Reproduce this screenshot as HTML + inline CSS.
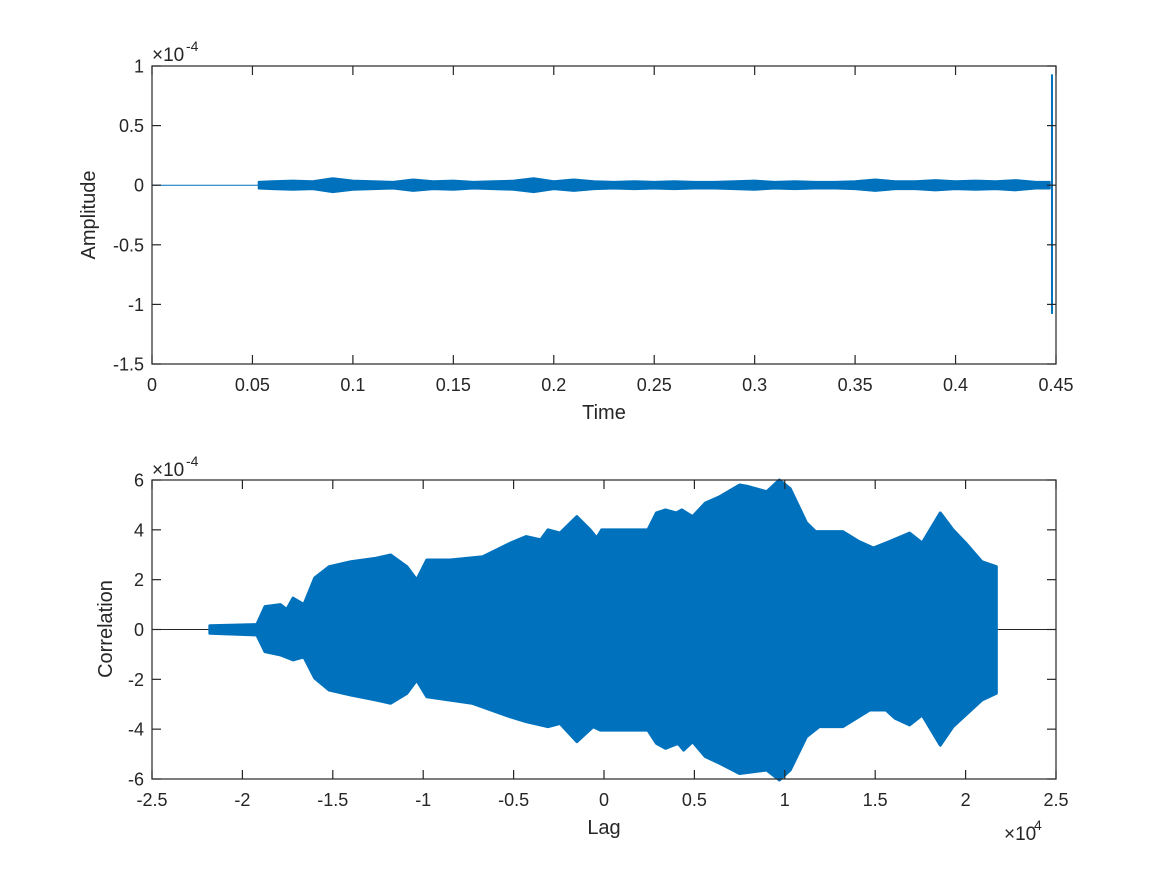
<!DOCTYPE html>
<html><head><meta charset="utf-8"><style>
body{margin:0;background:#fff;}
svg text{font-family:"Liberation Sans",Helvetica,Arial,sans-serif;fill:#262626;}
</style></head><body>
<svg id="fig" width="1167" height="875" viewBox="0 0 1167 875" xmlns="http://www.w3.org/2000/svg">
<rect width="1167" height="875" fill="#fff"/>
<g id="top"></g>
<g id="bot"></g>
</svg>
<script>
// ---- top plot data (time, amplitude x1e-4)
const topXTicks=[0,0.05,0.1,0.15,0.2,0.25,0.3,0.35,0.4,0.45];
const topXTickLabels=["0","0.05","0.1","0.15","0.2","0.25","0.3","0.35","0.4","0.45"];
const topYTicks=[-1.5,-1,-0.5,0,0.5,1];
const topYTickLabels=["-1.5","-1","-0.5","0","0.5","1"];
const noiseTimes=[0.053,0.06,0.07,0.08,0.09,0.1,0.11,0.12,0.13,0.14,0.15,0.16,0.17,0.18,0.19,0.2,0.21,0.22,0.23,0.24,0.25,0.26,0.27,0.28,0.29,0.3,0.31,0.32,0.33,0.34,0.35,0.36,0.37,0.38,0.39,0.4,0.41,0.42,0.43,0.44,0.447];
const noiseAmps=[0.03,0.035,0.04,0.035,0.06,0.04,0.035,0.03,0.05,0.035,0.04,0.03,0.035,0.04,0.06,0.035,0.05,0.035,0.03,0.035,0.03,0.035,0.03,0.03,0.035,0.04,0.03,0.035,0.03,0.03,0.035,0.05,0.035,0.035,0.045,0.035,0.04,0.035,0.045,0.03,0.03];
const spikeTime=0.448;
const spikeMax=0.93;
const spikeMin=-1.08;
// ---- bottom plot data (lag x1e4, correlation x1e-4)
const botXTicks=[-2.5,-2,-1.5,-1,-0.5,0,0.5,1,1.5,2,2.5];
const botXTickLabels=["-2.5","-2","-1.5","-1","-0.5","0","0.5","1","1.5","2","2.5"];
const botYTicks=[-6,-4,-2,0,2,4,6];
const botYTickLabels=["-6","-4","-2","0","2","4","6"];
const upperLags=[-2.18,-1.92,-1.875,-1.79,-1.755,-1.72,-1.66,-1.6,-1.52,-1.4,-1.26,-1.18,-1.09,-1.036,-0.98,-0.85,-0.67,-0.52,-0.43,-0.35,-0.31,-0.243,-0.15,-0.077,-0.04,-0.013,0.243,0.29,0.34,0.4,0.43,0.49,0.56,0.64,0.75,0.79,0.9,0.97,1.03,1.12,1.17,1.32,1.41,1.49,1.58,1.69,1.76,1.86,1.93,2.0,2.09,2.17];
const upperVals=[0.15,0.2,0.92,1.0,0.8,1.26,1.0,2.07,2.52,2.72,2.86,2.99,2.52,1.99,2.79,2.79,2.92,3.46,3.73,3.6,4.0,3.87,4.53,4.0,3.67,4.0,4.0,4.68,4.8,4.68,4.8,4.53,5.07,5.33,5.8,5.75,5.53,6.0,5.65,4.28,3.93,3.93,3.53,3.27,3.53,3.87,3.47,4.68,4.0,3.47,2.72,2.52];
const lowerLags=[-2.18,-1.92,-1.875,-1.79,-1.72,-1.66,-1.6,-1.52,-1.4,-1.26,-1.18,-1.09,-1.036,-0.98,-0.73,-0.52,-0.43,-0.31,-0.243,-0.15,-0.06,-0.02,0.243,0.29,0.34,0.41,0.44,0.49,0.56,0.64,0.75,0.9,0.97,1.03,1.12,1.19,1.32,1.47,1.56,1.61,1.69,1.76,1.86,1.93,2.0,2.09,2.17];
const lowerVals=[-0.15,-0.22,-0.89,-1.02,-1.22,-1.1,-1.95,-2.43,-2.63,-2.83,-2.96,-2.56,-2.03,-2.7,-2.96,-3.5,-3.7,-3.9,-3.77,-4.5,-3.9,-4.04,-4.04,-4.57,-4.77,-4.57,-4.84,-4.5,-5.1,-5.37,-5.78,-5.64,-6.04,-5.64,-4.3,-3.9,-3.9,-3.23,-3.23,-3.56,-3.83,-3.43,-4.64,-3.9,-3.43,-2.83,-2.56];

const NS="http://www.w3.org/2000/svg";
function mk(parent,tag,attrs,txt){const e=document.createElementNS(NS,tag);for(const k in attrs)e.setAttribute(k,attrs[k]);if(txt!==undefined)e.textContent=txt;parent.appendChild(e);return e;}
const BLUE="#0072bd";

function axes(g,L,T,R,B,xt,xl,yt,yl,sx,sy,name){
  const bx=mk(g,'rect',{x:L,y:T,width:R-L,height:B-T,fill:'none',stroke:'#262626','stroke-width':1.2});
  
  
  xt.forEach((v,i)=>{const x=sx(v);
    mk(g,'line',{x1:x,y1:B,x2:x,y2:B-9,stroke:'#262626','stroke-width':1.2});
    mk(g,'line',{x1:x,y1:T,x2:x,y2:T+9,stroke:'#262626','stroke-width':1.2});
    const t=mk(g,'text',{x:x,y:B+27,'font-size':18,'text-anchor':'middle'},xl[i]);
    
    });
  yt.forEach((v,i)=>{const y=sy(v);
    mk(g,'line',{x1:L,y1:y,x2:L+9,y2:y,stroke:'#262626','stroke-width':1.2});
    mk(g,'line',{x1:R,y1:y,x2:R-9,y2:y,stroke:'#262626','stroke-width':1.2});
    const t=mk(g,'text',{x:L-8,y:y+6.5,'font-size':18,'text-anchor':'end'},yl[i]);
    
    });
}

// ---- top
(function(){
  const g=document.getElementById('top');
  const L=152,R=1056,T=66,B=364;
  const sx=t=>L+(t-0)/(0.45-0)*(R-L);
  const sy=v=>B-(v-(-1.5))/(1-(-1.5))*(B-T);
  const fl=mk(g,'line',{x1:sx(0),y1:sy(0),x2:sx(noiseTimes[0]),y2:sy(0),stroke:BLUE,'stroke-width':1});
  
  
  let pts=[];
  noiseTimes.forEach((t,i)=>pts.push(sx(t)+','+sy(noiseAmps[i])));
  for(let i=noiseTimes.length-1;i>=0;i--)pts.push(sx(noiseTimes[i])+','+sy(-noiseAmps[i]));
  const nb=mk(g,'polygon',{points:pts.join(' '),fill:BLUE,stroke:BLUE,'stroke-width':1.5,'stroke-linejoin':'round'});
  
  
  const sp=mk(g,'line',{x1:sx(spikeTime),y1:sy(spikeMax),x2:sx(spikeTime),y2:sy(spikeMin),stroke:BLUE,'stroke-width':2});
  
  
  axes(g,L,T,R,B,topXTicks,topXTickLabels,topYTicks,topYTickLabels,sx,sy,'top');
  const ex=mk(g,'text',{x:152,y:61,'font-size':19},'×10');
  
  
  mk(g,'text',{x:186,y:51,'font-size':14},'-4');
  const xl=mk(g,'text',{x:604,y:419,'font-size':20,'text-anchor':'middle'},'Time');
  
  
  const yl=mk(g,'text',{x:95,y:215,'font-size':20,'text-anchor':'middle',transform:'rotate(-90 95 215)'},'Amplitude');
  
  
})();

// ---- bottom
(function(){
  const g=document.getElementById('bot');
  const L=152,R=1056,T=480,B=779;
  const sx=v=>L+(v-(-2.5))/5*(R-L);
  const sy=v=>B-(v-(-6))/12*(B-T);
  const zl=mk(g,'line',{x1:L,y1:sy(0),x2:R,y2:sy(0),stroke:'#262626','stroke-width':1});
  
  
  let pts=[];
  upperLags.forEach((l,i)=>pts.push(sx(l)+','+sy(upperVals[i])));
  for(let i=lowerLags.length-1;i>=0;i--)pts.push(sx(lowerLags[i])+','+sy(lowerVals[i]));
  const env=mk(g,'polygon',{points:pts.join(' '),fill:BLUE,stroke:BLUE,'stroke-width':3,'stroke-linejoin':'round'});
  
  
  axes(g,L,T,R,B,botXTicks,botXTickLabels,botYTicks,botYTickLabels,sx,sy,'bottom');
  const ex=mk(g,'text',{x:152,y:476,'font-size':19},'×10');
  
  
  mk(g,'text',{x:186,y:466,'font-size':14},'-4');
  const ex2=mk(g,'text',{x:1004,y:840,'font-size':19},'×10');
  
  
  mk(g,'text',{x:1034,y:830,'font-size':14},'4');
  const xl=mk(g,'text',{x:604,y:834,'font-size':20,'text-anchor':'middle'},'Lag');
  
  
  const yl=mk(g,'text',{x:112,y:629,'font-size':20,'text-anchor':'middle',transform:'rotate(-90 112 629)'},'Correlation');
  
  
})();
</script>
</body></html>
